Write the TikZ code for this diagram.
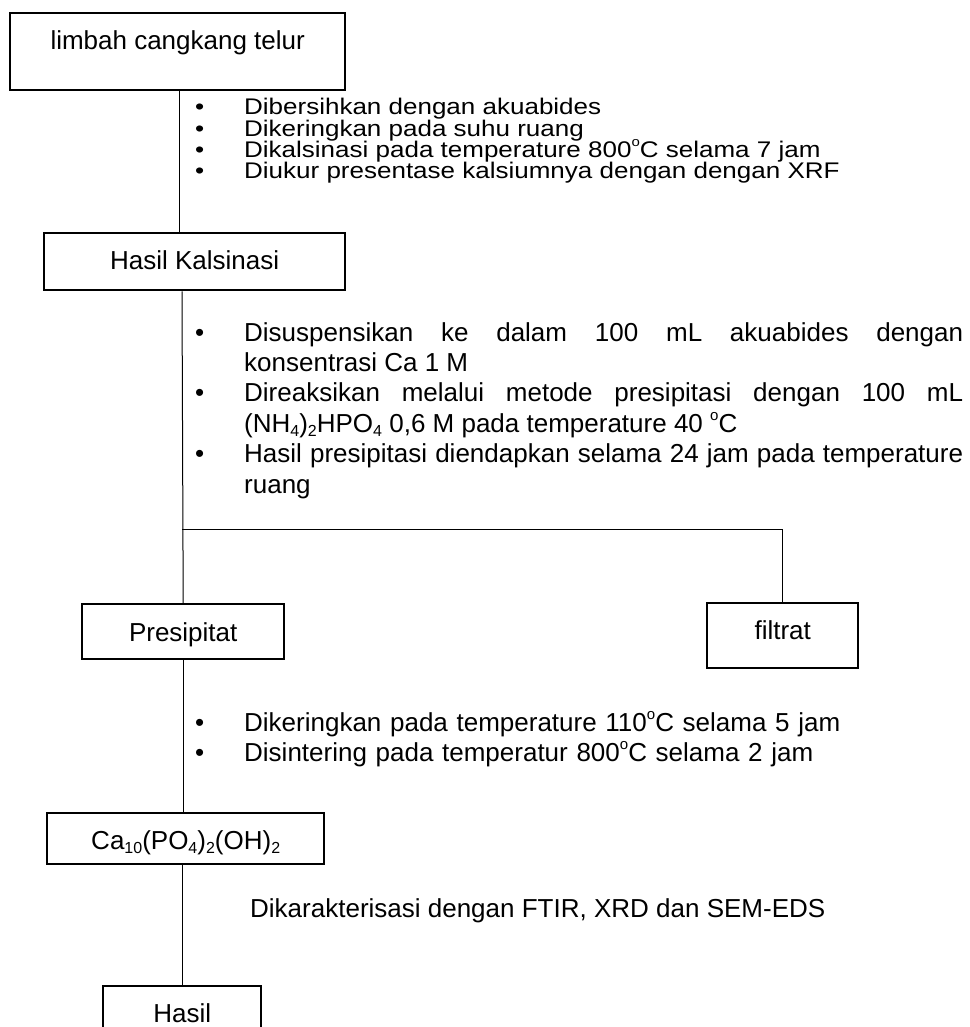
\documentclass[tikz,border=0pt]{standalone}
\usepackage{graphicx}
\usepackage{fontspec}
\setmainfont{Liberation Sans}
\usetikzlibrary{positioning}

\newcommand{\pangkat}[1]{\raisebox{0.45em}{\fontsize{15}{15}\selectfont #1}}
\newcommand{\indeks}[1]{\raisebox{-0.18em}{\fontsize{16}{16}\selectfont #1}}
\newcommand{\butir}[1]{\lineskiplimit=-50pt\hangindent=49pt\hangafter=1\makebox[49pt][l]{\textbullet}#1\par}
\tolerance=10000
\hyphenpenalty=10000
\hbadness=10000

\begin{document}
\begin{tikzpicture}[x=1pt, y=-1pt,
  kotak/.style={draw, line width=2.4pt, inner sep=0pt, anchor=north west, font=\fontsize{26}{30}\selectfont},
  garis/.style={line width=1pt},
  uraian/.style={anchor=base west, inner sep=0pt, text width=768pt, font=\fontsize{26}{30}\selectfont}]
  \useasboundingbox (0,0) rectangle (969,1027);
  \clip (0,0) rectangle (969,1027);

  \node[kotak, minimum width=335pt, text height=36pt, text depth=41pt] (limbah) at (9,12) {limbah cangkang telur};
  \node[kotak, minimum width=301pt, text height=36pt, text depth=21pt] (kalsinasi) at (43,232) {Hasil Kalsinasi};
  \node[kotak, minimum width=202pt, text height=37pt, text depth=18pt] (presipitat) at (81,603) {Presipitat};
  \node[kotak, minimum width=151pt, text height=36pt, text depth=29pt] (filtrat) at (706,602) {filtrat};
  \node[kotak, minimum width=277pt, text height=36pt, text depth=15pt] (ca) at (46,812) {Ca\indeks{10}(PO\indeks{4})\indeks{2}(OH)\indeks{2}};
  \node[kotak, minimum width=158pt, text height=36pt, text depth=30pt] (hasil) at (102,985) {Hasil};

  \node[anchor=base west, inner sep=0pt, font=\fontsize{26}{24.2}\selectfont] (tahap1) at (195,115) {%
    \scalebox{1}[0.87]{\parbox[t]{768pt}{\raggedright
    \butir{Dibersihkan dengan akuabides}%
    \butir{Dikeringkan pada suhu ruang}%
    \butir{Dikalsinasi pada temperature 800\pangkat{o}C selama 7 jam}%
    \butir{Diukur presentase kalsiumnya dengan dengan XRF}}}};
  \node[uraian, align=justify, font=\fontsize{26}{30.4}\selectfont] (tahap2) at (195,341) {%
    \butir{Disuspensikan ke dalam 100 mL akuabides dengan\linebreak konsentrasi Ca 1 M}%
    \butir{Direaksikan melalui metode presipitasi dengan 100 mL\linebreak (NH\indeks{4})\indeks{2}HPO\indeks{4} 0,6 M pada temperature 40 \pangkat{o}C}%
    \butir{Hasil presipitasi diendapkan selama 24 jam pada temperature\linebreak ruang}};
  \node[uraian, align=left] (tahap3) at (195,731) {%
    \butir{Dikeringkan pada temperature 110\pangkat{o}C selama 5 jam}%
    \butir{Disintering pada temperatur 800\pangkat{o}C selama 2 jam}};
  \node[anchor=base west, inner sep=0pt, font=\fontsize{26}{30}\selectfont] (karakter) at (250,917) {Dikarakterisasi dengan FTIR, XRD dan SEM-EDS};

  % garis penghubung
  \coordinate (sumbu) at (179,0);
  \coordinate (cabang) at (182,529);
  \draw[garis] (limbah.south -| sumbu) -- (kalsinasi.north -| sumbu);
  \draw[garis] (kalsinasi.south -| cabang) -- (presipitat.north);
  \draw[garis] (cabang) -| (filtrat.north);
  \draw[garis] (presipitat.south) -- (presipitat.south |- ca.north);
  \draw[garis] (hasil.north |- ca.south) -- (hasil.north);
\end{tikzpicture}
\end{document}
